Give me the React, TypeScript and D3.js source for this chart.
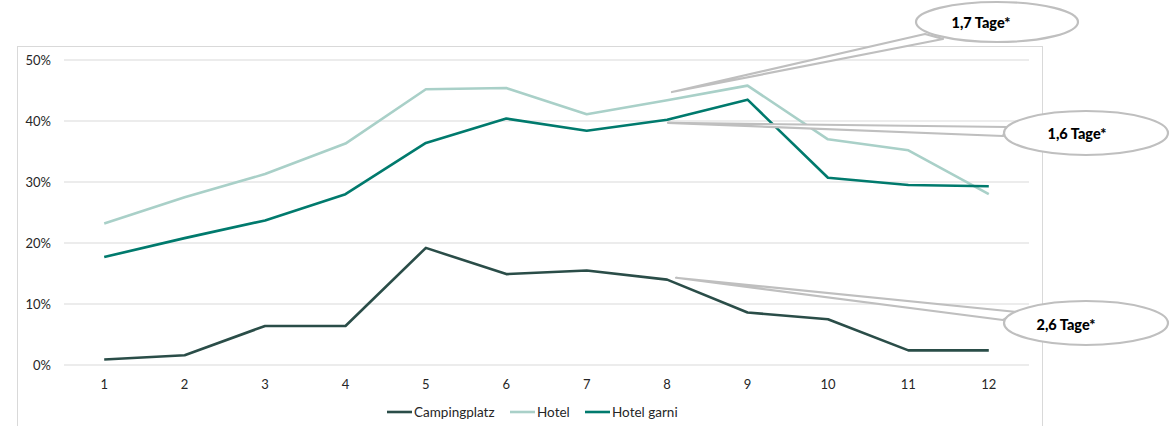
import React from "react";
import * as d3 from "d3";

const months = [1, 2, 3, 4, 5, 6, 7, 8, 9, 10, 11, 12];
const campingplatz = [0.009, 0.016, 0.064, 0.064, 0.192, 0.149, 0.155, 0.14, 0.086, 0.075, 0.024, 0.024];
const hotel = [0.232, 0.275, 0.313, 0.363, 0.452, 0.454, 0.411, 0.434, 0.458, 0.37, 0.352, 0.28];
const hotelGarni = [0.177, 0.208, 0.237, 0.28, 0.364, 0.404, 0.384, 0.402, 0.435, 0.307, 0.295, 0.293];
const yTicks = [0, 0.1, 0.2, 0.3, 0.4, 0.5];
const seriesNames = ["Campingplatz", "Hotel", "Hotel garni"];
const seriesColors = ["#2a4d48", "#a9d0c8", "#007a6d"];

// callouts: tip in data terms, bubble as layout
const callouts = [
  { label: "1,7 Tage*", tipMonth: 8.06, tipValue: 0.4475, cx: 997, cy: 22, rx: 81, ry: 20, b1: [925, 34], b2: [943, 39], tx: 981, ty: 23 },
  { label: "1,6 Tage*", tipMonth: 8.01, tipValue: 0.397, cx: 1086, cy: 133, rx: 82, ry: 22, b1: [1007, 127], b2: [1003, 136], tx: 1077, ty: 134 },
  { label: "2,6 Tage*", tipMonth: 8.11, tipValue: 0.143, cx: 1086, cy: 323, rx: 82, ry: 22, b1: [1017, 312], b2: [1003, 320], tx: 1066, ty: 325 },
];

const W = 1173;
const H = 426;
const FONT = "Lato, 'Open Sans', sans-serif";

export default function App() {
  const x = d3.scaleLinear().domain([0.5, 12.5]).range([64, 1029]);
  const y = d3.scaleLinear().domain([0, 0.5]).range([365, 60]);
  const line = d3
    .line<number>()
    .x((_, i) => x(months[i]))
    .y((d) => y(d));
  const data = [campingplatz, hotel, hotelGarni];
  const legendX = [387, 510, 585];

  return (
    <svg
      width={W}
      height={H}
      style={{ position: "absolute", left: 0, top: 0, background: "#fff" }}
      fontFamily={FONT}
    >
      <rect x={17.5} y={46.5} width={1025} height={400} fill="#fff" stroke="#d9d9d9" strokeWidth={1} />
      {yTicks.map((t) => (
        <g key={t}>
          <line x1={64} x2={1029} y1={y(t)} y2={y(t)} stroke="#d9d9d9" strokeWidth={1} />
          <text x={51} y={y(t)} dy="0.35em" textAnchor="end" fontSize={13} fill="#262626">
            {d3.format(".0%")(t)}
          </text>
        </g>
      ))}
      {months.map((m) => (
        <text key={m} x={x(m)} y={389} textAnchor="middle" fontSize={13} fill="#262626">
          {m}
        </text>
      ))}
      {data.map((s, i) => (
        <path key={i} d={line(s) || ""} fill="none" stroke={seriesColors[i]} strokeWidth={2.6} strokeLinejoin="round" />
      ))}
      {callouts.map((c, i) => {
        const tx = x(c.tipMonth);
        const ty = y(c.tipValue);
        return (
          <g key={i}>
            <polygon
              points={`${tx},${ty} ${c.b1[0]},${c.b1[1]} ${c.b2[0]},${c.b2[1]}`}
              fill="#fff"
              stroke="#bfbfbf"
              strokeWidth={2.2}
              strokeLinejoin="round"
            />
            <ellipse cx={c.cx} cy={c.cy} rx={c.rx} ry={c.ry} fill="#fff" stroke="#bfbfbf" strokeWidth={2.2} />
            <text x={c.tx} y={c.ty} dy="0.35em" textAnchor="middle" fontSize={14.5} fontWeight="900" fill="#000">
              {c.label}
            </text>
          </g>
        );
      })}
      {seriesNames.map((n, i) => (
        <g key={n}>
          <line x1={legendX[i]} x2={legendX[i] + 25} y1={412} y2={412} stroke={seriesColors[i]} strokeWidth={2.6} />
          <text x={legendX[i] + 27} y={412} dy="0.35em" fontSize={13.5} fill="#262626">
            {n}
          </text>
        </g>
      ))}
    </svg>
  );
}
